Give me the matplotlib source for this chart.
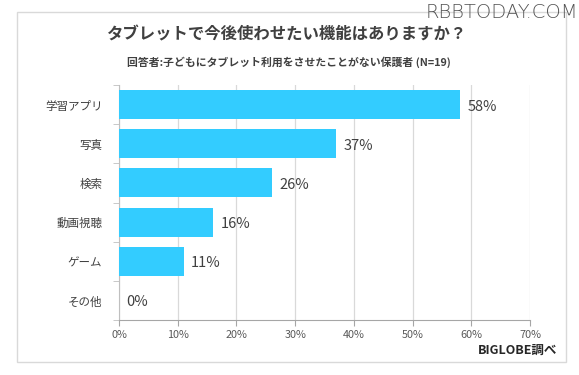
import matplotlib.pyplot as plt
from matplotlib.patches import Rectangle
import numpy as np

plt.rcParams['font.family'] = ['Noto Sans CJK JP', 'DejaVu Sans']

# Data
categories = ["学習アプリ", "写真", "検索", "動画視聴", "ゲーム", "その他"]
values = [58, 37, 26, 16, 11, 0]
x_ticks = [0, 10, 20, 30, 40, 50, 60, 70]
x_tick_labels = ["0%", "10%", "20%", "30%", "40%", "50%", "60%", "70%"]

title = "タブレットで今後使わせたい機能はありますか？"
subtitle = "回答者:子どもにタブレット利用をさせたことがない保護者 (N=19)"
source = "BIGLOBE調べ"

bar_color = "#33CCFF"
text_color = "#404040"

fig = plt.figure(figsize=(5.79, 3.75), dpi=100)
ax = fig.add_axes([119/579, 1-320/375, (530-119)/579, (320-85)/375])

# frame around the chart
fig.patches.append(Rectangle((17/579, 1-362/375), (566-17)/579, (362-12)/375,
                             transform=fig.transFigure, fill=False,
                             edgecolor="#d9d9d9", linewidth=1))

y = np.arange(len(categories))
ax.barh(y, values, height=0.74, color=bar_color, zorder=3)

# value labels
for yi, v in zip(y, values):
    ax.text(v + 1.3, yi + 0.05, f"{v}%", va="center", ha="left",
            fontsize=10.5, color=text_color)

ax.set_xlim(0, 70)
ax.set_ylim(len(categories) - 0.5, -0.5)
ax.set_xticks(x_ticks)
ax.set_xticklabels(x_tick_labels, fontsize=7.8, color="#595959")
ax.set_yticks(y)
ax.set_yticklabels(categories, fontsize=8.3, color=text_color)
ax.set_yticks(np.arange(len(categories) + 1) - 0.5, minor=True)

ax.tick_params(axis="y", which="major", length=0, pad=12)
ax.tick_params(axis="y", which="minor", length=4, color="#bfbfbf", direction="out")
ax.tick_params(axis="x", which="major", length=4, color="#a6a6a6", direction="out", pad=3)

ax.grid(axis="x", color="#d9d9d9", linewidth=0.9, zorder=0)
ax.set_axisbelow(True)
for s in ["top", "right"]:
    ax.spines[s].set_visible(False)
ax.spines["left"].set_color("#bfbfbf")
ax.spines["bottom"].set_color("#a6a6a6")

fig.text(286/579, 1-34/375, title, ha="center", va="center", fontsize=11.8,
         color="#404040", fontweight="bold")
fig.text(289/579, 1-62/375, subtitle, ha="center", va="center", fontsize=7.8,
         color="#404040", fontweight="bold")
fig.text(557/579, 1-350/375, source, ha="right", va="center", fontsize=9,
         color="#262626", fontweight="bold")
fig.text(578/579, 1-12/375, "RBBTODAY.COM", ha="right", va="center", fontsize=14,
         color="#555555", fontweight="light", family=["DejaVu Sans"])

fig.savefig("out.png", dpi=100)
